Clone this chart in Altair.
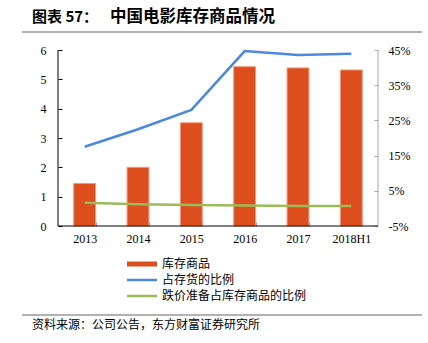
import altair as alt
import pandas as pd

years = ['2013', '2014', '2015', '2016', '2017', '2018H1']
inventory = [1.45, 2.0, 3.52, 5.43, 5.39, 5.32]
share_of_stock = [17.5, 22.5, 28.0, 44.7, 43.6, 43.9]
impairment_share = [1.6, 1.2, 1.0, 0.8, 0.7, 0.7]

series_names = ['库存商品', '占存货的比例', '跌价准备占库存商品的比例']
title_head = '图表 57：'
title_body = '中国电影库存商品情况'
source_text = '资料来源：公司公告，东方财富证券研究所'

CJK = 'Noto Sans CJK SC'
SERIF = 'Liberation Serif'
RED = '#DD4E1E'
BLUE = '#4A89DC'
GREEN = '#9BBB59'

bar_df = pd.DataFrame({'year': years, 'value': inventory})
line_df = pd.DataFrame({
    'year': years * 2,
    'pct': share_of_stock + impairment_share,
    'series': [series_names[1]] * len(years) + [series_names[2]] * len(years),
})

xscale = alt.Scale(domain=years, paddingInner=0.59, paddingOuter=0.295)
xaxis = alt.Axis(title=None, orient='bottom', offset=-4, domain=False, tickSize=4,
                 tickBand='extent', tickColor='#999999', labelAngle=0,
                 labelFont=SERIF, labelFontSize=12, labelColor='#000000',
                 labelPadding=7)

bars = alt.Chart(bar_df).mark_bar(color=RED, stroke='#F09A7A', strokeWidth=1).encode(
    x=alt.X('year:N', scale=xscale, axis=xaxis, sort=years),
    y=alt.Y('value:Q', scale=alt.Scale(domain=[0, 6], nice=False),
            axis=alt.Axis(title=None, orient='left', values=[0, 1, 2, 3, 4, 5, 6],
                          format='d', offset=-4, domain=False, tickSize=4,
                          tickColor='#000000', grid=False, labelFont=SERIF,
                          labelFontSize=12, labelColor='#000000', labelPadding=12)),
)

lines = alt.Chart(line_df).mark_line(strokeWidth=2.5).encode(
    x=alt.X('year:N', scale=xscale, axis=xaxis, sort=years),
    y=alt.Y('pct:Q', scale=alt.Scale(domain=[-5, 45], nice=False, zero=False),
            axis=alt.Axis(title=None, orient='right', values=[-5, 5, 15, 25, 35, 45],
                          labelExpr="datum.value + '%'", offset=-4, domain=False,
                          tickSize=4, tickColor='#AAAAAA', grid=False,
                          labelFont=SERIF, labelFontSize=12, labelColor='#000000',
                          labelPadding=10)),
    color=alt.Color('series:N', scale=alt.Scale(domain=series_names[1:], range=[BLUE, GREEN]),
                    legend=None),
)

one = pd.DataFrame({'k': [0]})


def rule(x1, x2, y1, y2, color, width):
    return alt.Chart(one).mark_rule(color=color, strokeWidth=width).encode(
        x=alt.value(x1), x2=alt.value(x2), y=alt.value(y1), y2=alt.value(y2))


def text(t, x, y, size, weight='normal', font=CJK):
    return alt.Chart(pd.DataFrame({'t': [t]})).mark_text(
        align='left', baseline='middle', font=font, fontSize=size,
        fontWeight=weight, color='#000000').encode(
        x=alt.value(x), y=alt.value(y), text='t:N')


annotations = [
    rule(0, 0, 0, 176, '#000000', 1),
    rule(320, 320, 0, 176, '#AAAAAA', 1),
    rule(0, 320, 176, 176, '#000000', 1),
    text(title_head, -26, -33, 15, 'bold'),
    text(title_body, 52, -33, 16.5, 'bold'),
    rule(-36, 364, -18, -18, '#999999', 1.5),
    rule(-36, 364, 265, 265, '#999999', 1.5),
    text(source_text, -26, 275, 12),
    rule(69, 99, 214, 214, RED, 5),
    rule(69, 99, 230, 230, BLUE, 2.5),
    rule(69, 99, 246, 246, GREEN, 2.5),
    text(series_names[0], 104, 214, 12),
    text(series_names[1], 104, 230, 12),
    text(series_names[2], 104, 246, 12),
]

chart = alt.layer(bars, lines, *annotations).resolve_scale(
    y='independent'
).properties(
    width=320, height=176,
    autosize=alt.AutoSizeParams(type='none'),
    padding={'left': 58, 'top': 50, 'right': 50, 'bottom': 117},
    background='#FFFFFF',
).configure_view(stroke=None)

chart.save('out.html', embed_options={'renderer': 'svg', 'actions': False})
